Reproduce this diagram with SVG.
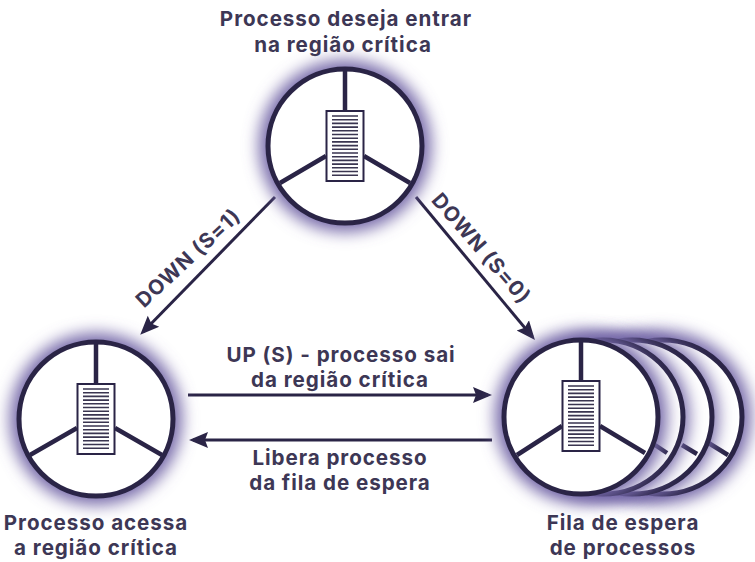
<svg xmlns="http://www.w3.org/2000/svg" width="755" height="562" viewBox="0 0 755 562">
<defs>
<style>
.t{font-family:"Inter","Liberation Sans",sans-serif;font-weight:700;font-size:20.600px;letter-spacing:.95px;fill:#3d3755;text-anchor:middle}
.w{fill:#fff;stroke:#2a2446;stroke-width:5}
.s{stroke:#2a2446;stroke-width:4.500;fill:none}
.g{fill:#7568a8;filter:url(#b)}
.r{fill:#fff;stroke:#2a2446;stroke-width:2}
.l{stroke:#3a3550;stroke-width:1.6}
.c{stroke:#2a2446;stroke-width:3;fill:none}
</style>
<filter id="b" x="-30%" y="-30%" width="160%" height="160%"><feGaussianBlur stdDeviation="8"/></filter>
<marker id="a" markerUnits="userSpaceOnUse" markerWidth="21" markerHeight="18" refX="15" refY="9" orient="auto"><path d="M0 1L19 9L0 17L3 9Z" fill="#2a2446"/></marker>
<g id="ladder">
<rect class="r" x="-18.500" y="-35" width="37" height="70"/>
<path class="l" d="M-13-30H13M-13-26.300H13M-13-22.600H13M-13-18.900H13M-13-15.200H13M-13-11.500H13M-13-7.800H13M-13-4.100H13M-13-.4H13M-13 3.300H13M-13 7H13M-13 10.700H13M-13 14.400H13M-13 18.100H13M-13 21.800H13M-13 25.500H13M-13 29.200H13"/>
</g>
</defs>
<rect width="755" height="562" fill="#fff"/>
<g id="connectors">
<path class="c" d="M275 197L143 332" marker-end="url(#a)"/>
<path class="c" d="M416 197L532.400 336.900" marker-end="url(#a)"/>
<path class="c" d="M188 395H488" marker-end="url(#a)"/>
<path class="c" d="M492 440H193" marker-end="url(#a)"/>
</g>
<g id="node-top">
<circle class="g" cx="345" cy="146" r="86"/>
<circle class="w" cx="345" cy="146" r="77"/>
<path class="s" d="M345 69V111M326 156L280 183M364 156L410 183"/>
<use href="#ladder" x="345" y="146"/>
</g>
<g id="node-left">
<circle class="g" cx="96" cy="419" r="86"/>
<circle class="w" cx="96" cy="419" r="77"/>
<path class="s" d="M96 342V384M77 428L30 455M115 428L162 455"/>
<use href="#ladder" x="96" y="419"/>
</g>
<g id="node-right">
<ellipse class="g" cx="662" cy="417" rx="89" ry="86"/>
<ellipse class="w" cx="662" cy="417" rx="80" ry="77"/>
<path class="s" d="M707 442L728 455"/>
<ellipse class="g" cx="632" cy="417" rx="86" ry="84"/>
<ellipse class="w" cx="632" cy="417" rx="80" ry="77"/>
<path class="s" d="M682 445L697 454"/>
<ellipse class="g" cx="603" cy="417" rx="86" ry="84"/>
<ellipse class="w" cx="603" cy="417" rx="80" ry="77"/>
<path class="s" d="M655 445L667 453"/>
<circle class="g" cx="581" cy="417" r="86"/>
<circle class="w" cx="581" cy="417" r="77"/>
<path class="s" d="M581 340V381M562 426L517 455M600 426L645 453"/>
<use href="#ladder" x="581" y="416"/>
</g>
<g id="labels">
<text class="t"><tspan x="346" y="26">Processo deseja entrar</tspan><tspan x="343" y="52">na região crítica</tspan></text>
<text class="t"><tspan x="96" y="530">Processo acessa</tspan><tspan x="96" y="555">a região crítica</tspan></text>
<text class="t"><tspan x="623" y="530">Fila de espera</tspan><tspan x="623" y="555">de processos</tspan></text>
<text class="t"><tspan x="341" y="362">UP (S) - processo sai</tspan><tspan x="340" y="387">da região crítica</tspan></text>
<text class="t"><tspan x="340" y="465">Libera processo</tspan><tspan x="340" y="490">da fila de espera</tspan></text>
<text class="t" transform="translate(193 263) rotate(-43)">DOWN (S=1)</text>
<text class="t" transform="translate(476 253) rotate(49)">DOWN (S=0)</text>
</g>
</svg>
